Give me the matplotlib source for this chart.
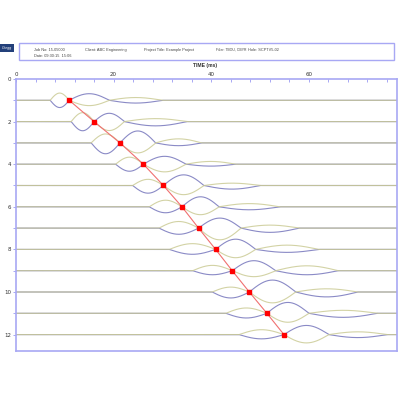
import numpy as np
import matplotlib
matplotlib.use("Agg")
import matplotlib.pyplot as plt
from matplotlib.patches import Rectangle

# depth of each trace (m) and picked arrival (ms)
depths = [1, 2, 3, 4, 5, 6, 7, 8, 9, 10, 11, 12]
arrival = [10.9, 16.0, 21.3, 26.1, 30.2, 34.0, 37.4, 40.9, 44.3, 47.8, 51.4, 54.9]

# zero crossings of each wavelet (ms)
onset = [7.0, 11.3, 15.4, 20.4, 23.9, 27.3, 29.3, 31.4, 36.2, 40.2, 43.0, 45.7]
end2 = [19.1, 22.2, 28.6, 34.8, 38.5, 41.6, 46.1, 49.1, 53.2, 57.3, 60.0, 64.1]
end3 = [30.0, 35.0, 38.0, 45.0, 50.0, 54.0, 58.0, 62.0, 66.0, 70.0, 74.0, 76.0]

# lobe amplitudes (in depth units), blue and olive components
blue1 = [0.34, 0.43, 0.51, 0.33, 0.36, 0.28, 0.29, 0.23, 0.19, 0.28, 0.22, 0.20]
blue2 = [0.31, 0.39, 0.56, 0.37, 0.50, 0.47, 0.47, 0.48, 0.47, 0.56, 0.51, 0.43]
blue3 = [0.13, 0.20, 0.13, 0.09, 0.17, 0.14, 0.20, 0.14, 0.19, 0.23, 0.19, 0.14]
olive1 = [0.34, 0.42, 0.42, 0.33, 0.29, 0.31, 0.31, 0.27, 0.25, 0.23, 0.25, 0.23]
olive2 = [0.25, 0.42, 0.47, 0.36, 0.43, 0.37, 0.55, 0.39, 0.28, 0.51, 0.42, 0.39]
olive3 = [0.13, 0.14, 0.19, 0.13, 0.11, 0.15, 0.14, 0.20, 0.23, 0.15, 0.14, 0.13]

header = [("Job No: 15-05000", 34, 50), ("Date: 09:30:15  15:06", 34, 56),
          ("Client: ABC Engineering", 85, 50), ("Project Title: Example Project", 144, 50),
          ("Filter: TBOU, OBYR", 216, 50), ("Hole: SCPTV5-02", 248, 50)]

BLUE = "#8a8ac6"
OLIVE = "#cbcb95"
SPINE = "#a8a8f4"


def lobe(t, a, b):
    out = np.zeros_like(t)
    m = (t >= a) & (t <= b)
    out[m] = np.sin(np.pi * (t[m] - a) / (b - a))
    return out


fig = plt.figure(figsize=(4, 4), dpi=100)
ax = fig.add_axes([16 / 400, 1 - 351 / 400, (396.7 - 16) / 400, (351 - 79) / 400])

t = np.linspace(0, 78, 2000)
for i, d in enumerate(depths):
    l1 = lobe(t, onset[i], arrival[i])
    l2 = lobe(t, arrival[i], end2[i])
    l3 = lobe(t, end2[i], end3[i])
    b = d + blue1[i] * l1 - blue2[i] * l2 + blue3[i] * l3
    o = d - olive1[i] * l1 + olive2[i] * l2 - olive3[i] * l3
    ax.plot(t, b, color=BLUE, lw=0.8)
    ax.plot(t, o, color=OLIVE, lw=0.8, alpha=0.85)

ax.plot(arrival, depths, color="#f07070", lw=0.8, zorder=5)
ax.plot(arrival, depths, ls="none", marker="s", ms=2.6, color="red", zorder=6)

ax.set_xlim(0, 78)
ax.set_ylim(12.77, 0)
ax.xaxis.tick_top()
ax.set_xticks([0, 20, 40, 60])
ax.set_xticks(np.arange(0, 78, 4), minor=True)
ax.set_yticks(range(0, 13, 2))
ax.set_yticks(range(0, 13), minor=True)
ax.tick_params(axis="both", which="both", labelsize=4, colors=SPINE, labelcolor="#333333",
               length=2, width=0.7, pad=1.5)
ax.tick_params(axis="x", which="both", direction="in")
for s in ax.spines.values():
    s.set_color(SPINE)
    s.set_linewidth(1.2)
fig.text(205 / 400, 1 - 66 / 400, "TIME (ms)", fontsize=3.6, fontweight="bold",
         ha="center", va="center", color="#333333", family="Liberation Sans")

# header box
fig.patches.append(Rectangle((19 / 400, 1 - 60 / 400), 375 / 400, 17 / 400,
                             transform=fig.transFigure, fill=False, ec=SPINE, lw=1))
fig.patches.append(Rectangle((0, 1 - 52 / 400), 14 / 400, 8 / 400,
                             transform=fig.transFigure, fc="#23407a", ec="none"))
fig.text(7 / 400, 1 - 48 / 400, "Gregg", fontsize=2.6, color="white", ha="center",
         va="center", style="italic", family="Liberation Sans")
for txt, x, y in header:
    fs = 2.4 if txt.startswith("Filter") else 2.8
    fig.text(x / 400, 1 - y / 400, txt, fontsize=fs, color="#444444", ha="left",
             va="center", family="Liberation Sans")

fig.savefig("out.png", dpi=100)
